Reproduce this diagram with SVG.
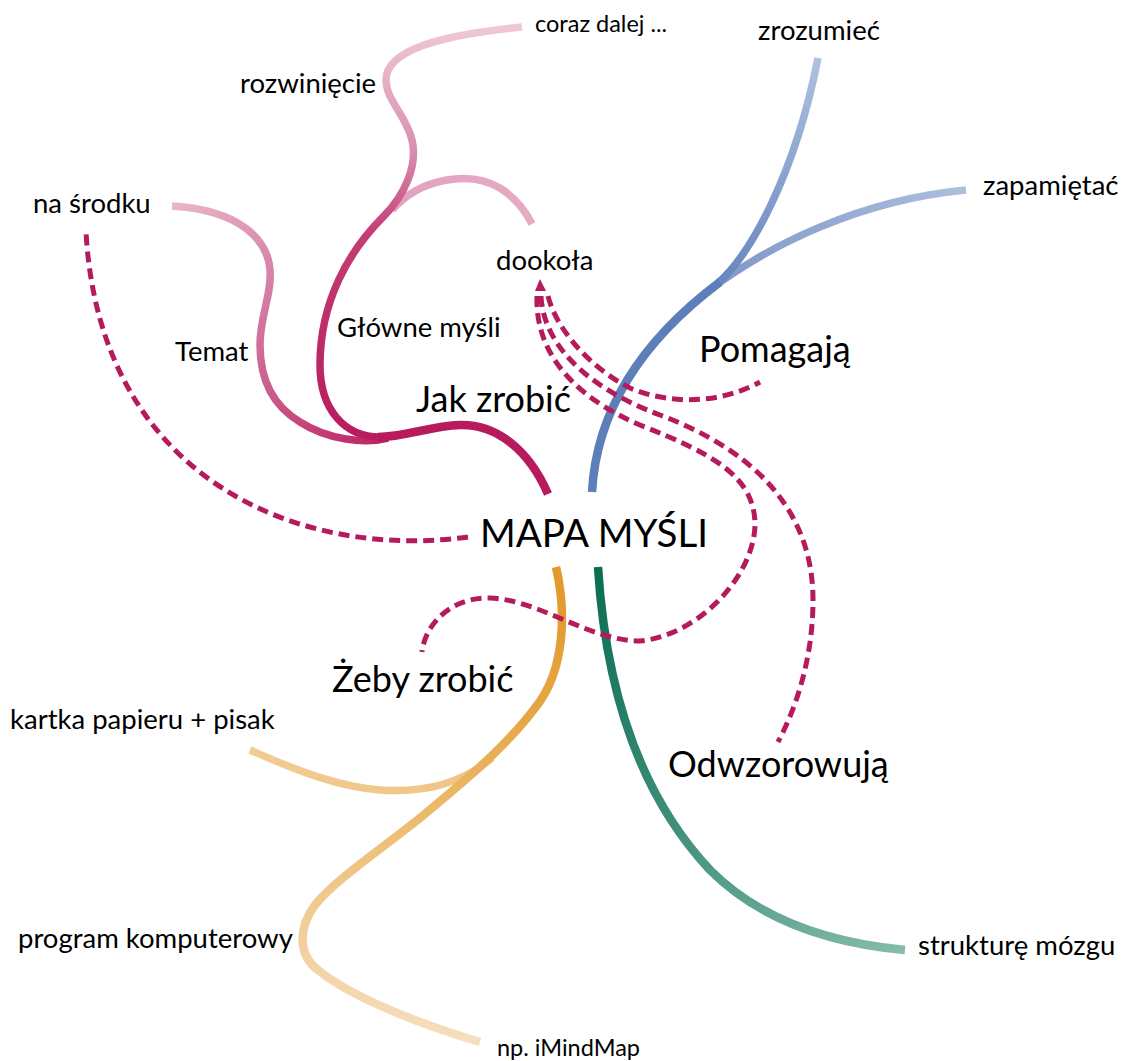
<svg xmlns="http://www.w3.org/2000/svg" width="1121" height="1061" viewBox="0 0 1121 1061">
<defs>
<style>
text { font-family: Lato, "Open Sans", "Liberation Sans", sans-serif; fill:#000; }
.root { font-size:38.5px; }
.l1 { font-size:36px; }
.l2 { font-size:27.5px; }
.l3 { font-size:23.5px; }
.br { fill:none; stroke-linecap:butt; }
.w8 { stroke-width:8.5; }
.w7 { stroke-width:7.5; }
.dash { fill:none; stroke:#B51B5C; stroke-width:5; stroke-dasharray:11 6; }
</style>
<linearGradient id="gGlowne" gradientUnits="userSpaceOnUse" x1="0" y1="440" x2="0" y2="27">
<stop offset="0" stop-color="#B81B5E"/>
<stop offset="0.5" stop-color="#C33D74"/>
<stop offset="0.7" stop-color="#D98FAE"/>
<stop offset="1" stop-color="#EEC8D8"/>
</linearGradient>
<linearGradient id="gTemat" gradientUnits="userSpaceOnUse" x1="390" y1="438" x2="172" y2="206">
<stop offset="0" stop-color="#BC2464"/>
<stop offset="0.5" stop-color="#D0709A"/>
<stop offset="1" stop-color="#E9B6CA"/>
</linearGradient>
<linearGradient id="gDook" gradientUnits="userSpaceOnUse" x1="392" y1="210" x2="532" y2="224">
<stop offset="0" stop-color="#E2A2BD"/>
<stop offset="1" stop-color="#E6ABC4"/>
</linearGradient>
<linearGradient id="gZroz" gradientUnits="userSpaceOnUse" x1="0" y1="283" x2="0" y2="58">
<stop offset="0" stop-color="#6887BF"/>
<stop offset="1" stop-color="#AFC1DF"/>
</linearGradient>
<linearGradient id="gZap" gradientUnits="userSpaceOnUse" x1="712" y1="0" x2="966" y2="0">
<stop offset="0" stop-color="#7F98C9"/>
<stop offset="1" stop-color="#AEBFDE"/>
</linearGradient>
<linearGradient id="gOrange" gradientUnits="userSpaceOnUse" x1="0" y1="567" x2="0" y2="1042">
<stop offset="0" stop-color="#E3982A"/>
<stop offset="0.3" stop-color="#E6A543"/>
<stop offset="0.6" stop-color="#EEC27F"/>
<stop offset="1" stop-color="#F6DFBE"/>
</linearGradient>
<linearGradient id="gKartka" gradientUnits="userSpaceOnUse" x1="492" y1="0" x2="250" y2="0">
<stop offset="0" stop-color="#EFC584"/>
<stop offset="1" stop-color="#F0CC93"/>
</linearGradient>
<linearGradient id="gGreen" gradientUnits="userSpaceOnUse" x1="598" y1="567" x2="905" y2="950">
<stop offset="0" stop-color="#0A6E53"/>
<stop offset="0.5" stop-color="#3F8E79"/>
<stop offset="1" stop-color="#85BCAC"/>
</linearGradient>
</defs>
<rect width="1121" height="1061" fill="#FFFFFF"/>

<g id="connectors">
<!-- pink / crimson family -->
<path class="br w7" stroke="url(#gTemat)" d="M388,438 C365,444 328,440 300,422 C270,404 260,375 260,345 C260,315 272,295 270,270 C268,240 240,210 172,206"/>
<path class="br w7" stroke="url(#gDook)" d="M392,210 C420,178 470,170 500,188 C514,197 525,210 532,224"/>
<path class="br w7" stroke="url(#gGlowne)" d="M380,437 C345,437 320,410 320,365 C320,300 350,250 383,217 C405,195 418,165 412,140 C406,115 386,100 386,80 C386,50 440,35 522,27"/>
<path class="br w8" stroke="#B71B5E" d="M548,494 C528,448 495,424 460,425 C430,426 405,437 378,437"/>
<!-- blue -->
<path class="br w7" stroke="url(#gZap)" d="M712,288 C770,245 860,200 966,190"/>
<path class="br w7" stroke="url(#gZroz)" d="M718,283 C750,255 795,175 818,58"/>
<path class="br w8" stroke="#5C7EB9" d="M592,492 C596,420 632,348 720,282"/>
<!-- orange -->
<path class="br w7" stroke="url(#gKartka)" d="M492,758 C460,785 420,793 380,790 C340,787 300,772 250,750"/>
<path class="br w8" stroke="url(#gOrange)" d="M556,567 C566,610 566,670 535,708 C505,748 460,785 420,818 C380,850 335,880 315,905 C298,928 298,955 318,970 C345,992 400,1018 480,1042"/>
<!-- green -->
<path class="br w8" stroke="url(#gGreen)" d="M598,567 C605,680 635,790 710,870 C770,930 850,945 905,950"/>
<!-- dashed relations -->
<path class="dash" d="M468,537 C300,560 100,480 86,232"/>
<polygon points="540,279 535,291 546,291" fill="#B51B5C"/>
<path class="dash" d="M548,296 C555,325 585,365 630,388 C670,405 720,404 760,382"/>
<path class="dash" d="M537,296 C535,350 570,395 640,425 C710,453 755,475 755,525 C754,575 700,635 640,641 C590,641 540,600 490,598 C450,597 425,625 422,652"/>
<path class="dash" d="M541,296 C543,340 580,385 660,415 C740,445 813,500 813,600 C813,660 795,710 778,742"/>
</g>

<g id="node-root"><text class="root" x="480" y="547">MAPA MYŚLI</text></g>
<g id="node-jak"><text class="l1" x="416" y="412">Jak zrobić</text></g>
<g id="node-pomagaja"><text class="l1" x="699" y="362">Pomagają</text></g>
<g id="node-zeby"><text class="l1" x="332" y="692">Żeby zrobić</text></g>
<g id="node-odwz"><text class="l1" x="668" y="777">Odwzorowują</text></g>
<g id="node-temat"><text class="l2" x="175" y="361">Temat</text></g>
<g id="node-glowne"><text class="l2" x="337" y="337">Główne myśli</text></g>
<g id="node-srodku"><text class="l2" x="33" y="213">na środku</text></g>
<g id="node-rozw"><text class="l2" x="240" y="93">rozwinięcie</text></g>
<g id="node-coraz"><text class="l3" x="535" y="32">coraz dalej ...</text></g>
<g id="node-dookola"><text class="l2" x="496" y="270">dookoła</text></g>
<g id="node-zroz"><text class="l2" x="758" y="40">zrozumieć</text></g>
<g id="node-zap"><text class="l2" x="983" y="195">zapamiętać</text></g>
<g id="node-kartka"><text class="l2" x="10" y="729">kartka papieru + pisak</text></g>
<g id="node-program"><text class="l2" x="18" y="948">program komputerowy</text></g>
<g id="node-imind"><text class="l3" x="497" y="1056">np. iMindMap</text></g>
<g id="node-struktura"><text class="l2" x="918" y="955">strukturę mózgu</text></g>
</svg>
